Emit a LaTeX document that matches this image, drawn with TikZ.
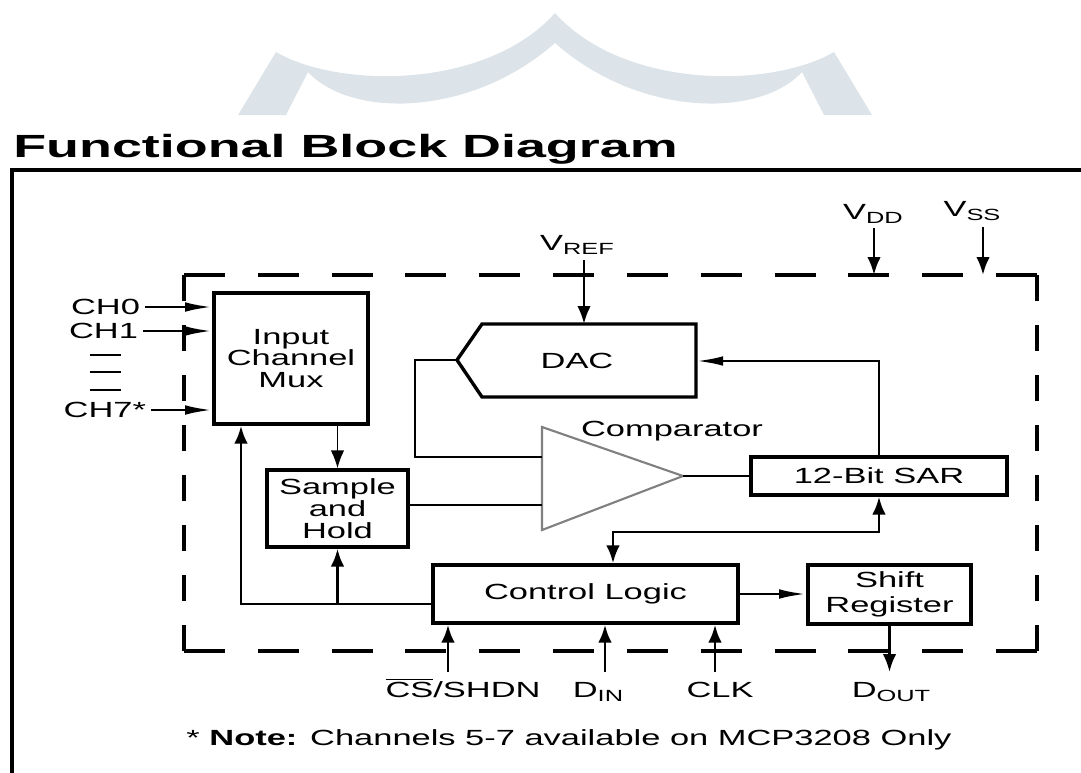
\documentclass[tikz,border=0pt]{standalone}
\usepackage{fontspec}
\setmainfont{Liberation Sans}[FakeStretch=1.57]
\newfontfamily\titlefont{Liberation Sans}[FakeStretch=1.68]
\usepackage{tikz}
\usetikzlibrary{positioning, arrows.meta}
\usepackage{xcolor}
\definecolor{wmark}{RGB}{221,228,233}
\newcommand{\pinsub}[1]{\raisebox{-0.35ex}{\fontsize{11.5}{12}\selectfont #1}}

\begin{document}
\begin{tikzpicture}[x=0.025cm, y=-0.025cm,
    font=\fontsize{15.6}{15.6}\selectfont,
    block/.style={draw, line width=2.4pt, align=center, inner sep=0pt},
    wire/.style={line width=2pt},
    harr/.style={wire, -{Latex[length=6.8mm, width=2.4mm]}},
    varr/.style={wire, -{Latex[length=4.5mm, width=3.4mm]}},
    chipedge/.style={line width=2.6pt},
    hdash/.style={dash pattern=on 1.025cm off 0.82cm},
    vdash/.style={dash pattern=on 0.65cm off 0.6cm}]
    \useasboundingbox (0,0) rectangle (1081,772);
    \clip (0,0) rectangle (1081,772);

    % Background mark
    \fill[wmark] (238,115) -- (276,52) .. controls (340,89) and (487,89) .. (555,13)
        .. controls (623,89) and (770,89) .. (834,52) -- (872,115) -- (824,115) -- (802,72)
        .. controls (760,118) and (640,118) .. (555,43)
        .. controls (470,118) and (350,118) .. (308,72) -- (286,115) -- cycle;

    % Title
    \node[anchor=base west, inner sep=0pt, font=\titlefont\bfseries\fontsize{22.8}{24}\selectfont]
        (title) at (13,157) {Functional Block Diagram};

    % Outer frame
    \draw[line width=2.6pt] (12,800) -- (12,170) -- (1100,170);

    % Chip boundary
    \coordinate (chipNW) at (184,275);
    \coordinate (chipSE) at (1037,651);
    \draw[chipedge, hdash] (chipNW) -- (chipNW -| chipSE);
    \draw[chipedge, hdash] (chipNW |- chipSE) -- (chipSE);
    \draw[chipedge, vdash] (chipNW) -- (chipNW |- chipSE);
    \draw[chipedge, vdash] (chipNW -| chipSE) -- (chipSE);

    % Blocks
    \node[block, minimum width=3.85cm, minimum height=3.275cm] (mux) at (291,358.5) {Input\\Channel\\Mux};
    \node[block, minimum width=3.525cm, minimum height=1.925cm] (sh) at (337.5,508.5) {Sample\\and\\Hold};
    \node[block, minimum width=7.625cm, minimum height=1.45cm] (ctrl) at (585.5,594) {Control Logic};
    \node[block, minimum width=4.075cm, minimum height=1.475cm] (shreg) at (889.5,594.5) {Shift\\[2pt]Register};
    \node[block, minimum width=6.4cm, minimum height=0.95cm] (sar) at (879,476) {12-Bit SAR};

    % DAC
    \coordinate (dacP) at (457,360);
    \coordinate (dacNW) at (482,324);
    \coordinate (dacNE) at (696,324);
    \coordinate (dacSE) at (696,397);
    \coordinate (dacSW) at (482,397);
    \draw[line width=2.4pt] (dacP) -- (dacNW) -- (dacNE) -- (dacSE) -- (dacSW) -- cycle;
    \node (dac) at (577,361) {DAC};

    % Comparator
    \coordinate (cmpIn1) at (542,457);
    \coordinate (cmpIn2) at (542,505);
    \coordinate (cmpOut) at (683,476);
    \draw[gray, line width=1.5pt] (542,427) -- (cmpOut) -- (542,530) -- cycle;
    \node (cmplabel) at (672,431) {Comparator};

    % Analog inputs
    \node[anchor=east] (ch0) at (145,307) {CH0};
    \node[anchor=east] (ch1) at (143,331) {CH1};
    \node[anchor=east] (ch7) at (151,410) {CH7*};
    \draw[harr] (ch0.east) -- (ch0.east -| mux.west);
    \draw[harr] (ch1.east) -- (ch1.east -| mux.west);
    \draw[harr] (ch7.east) -- (ch7.east -| mux.west);
    \foreach \y in {355,372,390}
        \draw[wire] (90,\y) -- (121,\y);

    % Signal paths
    \draw[varr, line width=1.2pt] (mux.south -| sh.north) -- (sh.north);
    \coordinate (busL) at (241,604);
    \draw[varr] (ctrl.west |- busL) -| (busL |- mux.south);
    \draw[varr] (sh.south |- busL) -- (sh.south);
    \coordinate (fbk) at (415,457);
    \draw[wire] (dacP) -| (fbk) -- (cmpIn1);
    \draw[wire] (sh.east |- cmpIn2) -- (cmpIn2);
    \draw[wire] (cmpOut) -- (sar.west);
    \draw[harr] (sar.north) |- (dacNE |- dac);
    \coordinate (sarbus) at (613,532);
    \draw[wire, {Latex[length=4.5mm, width=3.4mm]}-{Latex[length=4.5mm, width=3.4mm]}]
        (sarbus |- ctrl.north) -- (sarbus) -| (sar.south);
    \draw[harr] (ctrl.east) -- (ctrl.east -| shreg.west);

    % Supply and reference pins
    \node[anchor=base] (vref) at (577,250) {V\pinsub{REF}};
    \node[anchor=base] (vdd) at (873,219) {V\pinsub{DD}};
    \node[anchor=base] (vss) at (972,216) {V\pinsub{SS}};
    \coordinate (vrefa) at (584,260);
    \coordinate (vdda) at (874,228);
    \coordinate (vssa) at (983,227);
    \draw[varr] (vrefa) -- (vrefa |- dacNE);
    \draw[varr] (vdda) -- (vdda |- chipNW);
    \draw[varr] (vssa) -- (vssa |- chipNW);

    % Digital pins
    \node[anchor=base] (cs) at (463,697) {$\overline{\mbox{CS}}$/SHDN};
    \node[anchor=base] (din) at (598,697) {D\pinsub{IN}};
    \node[anchor=base] (clk) at (720,697) {CLK};
    \node[anchor=base] (dout) at (891,697) {D\pinsub{OUT}};
    \coordinate (csa) at (448,672);
    \coordinate (dina) at (605,672);
    \coordinate (clka) at (715,672);
    \coordinate (douta) at (890,672);
    \draw[varr] (csa) -- (csa |- ctrl.south);
    \draw[varr] (dina) -- (dina |- ctrl.south);
    \draw[varr] (clka) -- (clka |- ctrl.south);
    \draw[varr] (shreg.south) -- (shreg.south |- douta);

    % Footnote
    \node (note) at (569,740) {* \textbf{Note:} Channels 5-7 available on MCP3208 Only};
\end{tikzpicture}
\end{document}
